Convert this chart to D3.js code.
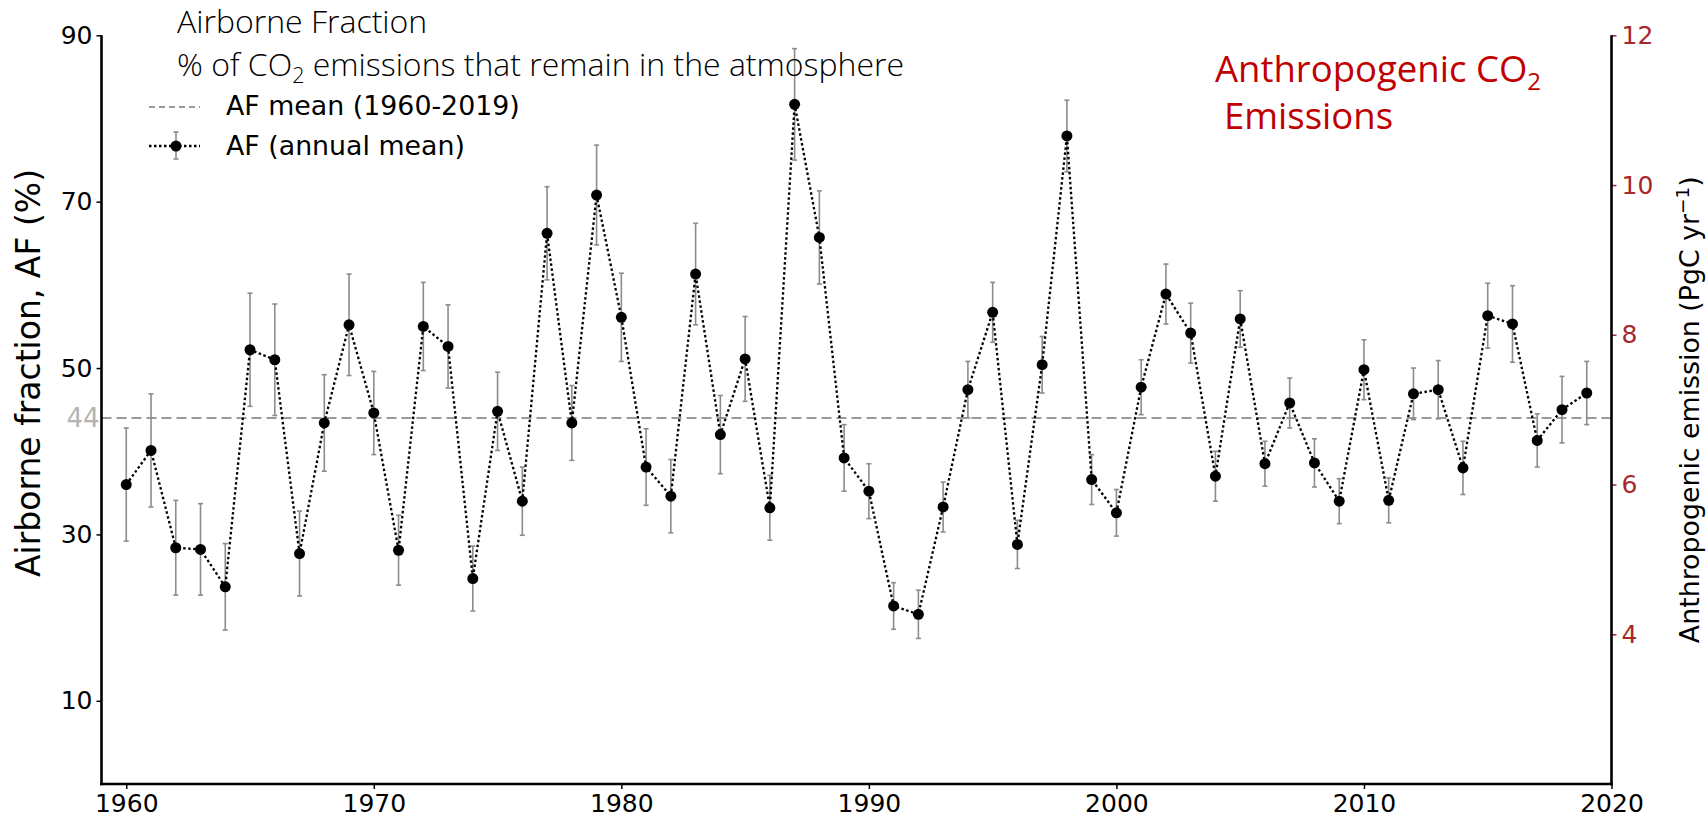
<!DOCTYPE html>
<html>
<head>
<meta charset="utf-8">
<script src="https://cdn.jsdelivr.net/npm/d3@7"></script>
<style>
  html, body { margin: 0; padding: 0; background: #fff; }
  svg { display: block; }
</style>
</head>
<body>
<svg id="chart" width="1708" height="817"></svg>
<script>
// Annual airborne fraction of CO2 emissions, 1960-2019
const years = [
  1960, 1961, 1962, 1963, 1964, 1965, 1966, 1967, 1968, 1969,
  1970, 1971, 1972, 1973, 1974, 1975, 1976, 1977, 1978, 1979,
  1980, 1981, 1982, 1983, 1984, 1985, 1986, 1987, 1988, 1989,
  1990, 1991, 1992, 1993, 1994, 1995, 1996, 1997, 1998, 1999,
  2000, 2001, 2002, 2003, 2004, 2005, 2006, 2007, 2008, 2009,
  2010, 2011, 2012, 2013, 2014, 2015, 2016, 2017, 2018, 2019
];
const afValues = [
  36.0, 40.1, 28.4, 28.2, 23.7, 52.2, 51.0, 27.7, 43.4, 55.2,
  44.6, 28.1, 55.0, 52.6, 24.7, 44.8, 34.0, 66.2, 43.4, 70.8,
  56.1, 38.1, 34.6, 61.3, 42.0, 51.1, 33.2, 81.7, 65.7, 39.2,
  35.2, 21.4, 20.4, 33.3, 47.4, 56.7, 28.8, 50.4, 77.9, 36.6,
  32.6, 47.7, 58.9, 54.2, 37.0, 55.9, 38.5, 45.8, 38.6, 34.0,
  49.8, 34.1, 46.9, 47.4, 38.0, 56.3, 55.3, 41.3, 45.0, 47.0
];
const afErrors = [
  6.8, 6.8, 5.7, 5.5, 5.2, 6.8, 6.7, 5.1, 5.8, 6.1,
  5.0, 4.2, 5.3, 5.0, 3.9, 4.7, 4.1, 5.6, 4.5, 6.0,
  5.3, 4.6, 4.4, 6.1, 4.7, 5.1, 3.9, 6.7, 5.6, 4.0,
  3.3, 2.8, 2.9, 3.0, 3.4, 3.6, 2.9, 3.4, 4.3, 3.0,
  2.8, 3.3, 3.6, 3.6, 3.0, 3.4, 2.7, 3.0, 2.9, 2.7,
  3.6, 2.7, 3.1, 3.5, 3.2, 3.9, 4.6, 3.2, 4.0, 3.8
];
const afMean = 44;

const xTicks = [1960, 1970, 1980, 1990, 2000, 2010, 2020];
const leftTicks = [10, 30, 50, 70, 90];
const rightTicks = [4, 6, 8, 10, 12];

const xDomain = [1959, 2020];
const leftDomain = [0, 90];
const rightDomain = [2, 12];

const data = years.map((yr, i) => ({ year: yr, af: afValues[i], err: afErrors[i] }));

const svg = d3.select("#chart");
const plot = { left: 101.5, right: 1611.5, top: 35.3, bottom: 784 };

const x = d3.scaleLinear().domain(xDomain).range([plot.left, plot.right]);
const yL = d3.scaleLinear().domain(leftDomain).range([plot.bottom, plot.top]);
const yR = d3.scaleLinear().domain(rightDomain).range([plot.bottom, plot.top]);

const tickFont = "'DejaVu Sans', sans-serif";
const emissionRed = "#a8272a";

// mean line
svg.append("line")
  .attr("x1", plot.left).attr("x2", plot.right)
  .attr("y1", yL(afMean)).attr("y2", yL(afMean))
  .attr("stroke", "#9a9a9a").attr("stroke-width", 2)
  .attr("stroke-dasharray", "10,5");

svg.append("text")
  .attr("x", plot.left - 2).attr("y", yL(afMean))
  .attr("dy", "0.36em")
  .attr("text-anchor", "end")
  .attr("font-family", tickFont).attr("font-size", 26)
  .attr("fill", "#b4b4b4")
  .text(afMean);

// error bars
const eb = svg.append("g").attr("stroke", "#8c8c8c").attr("stroke-width", 1.6);
data.forEach(d => {
  const cx = x(d.year);
  eb.append("line").attr("x1", cx).attr("x2", cx)
    .attr("y1", yL(d.af - d.err)).attr("y2", yL(d.af + d.err));
  [d.af - d.err, d.af + d.err].forEach(v => {
    eb.append("line").attr("x1", cx - 2.5).attr("x2", cx + 2.5)
      .attr("y1", yL(v)).attr("y2", yL(v));
  });
});

// dotted connecting line
svg.append("path")
  .datum(data)
  .attr("fill", "none")
  .attr("stroke", "#000")
  .attr("stroke-width", 2.3)
  .attr("stroke-dasharray", "2.5,2.5")
  .attr("d", d3.line().x(d => x(d.year)).y(d => yL(d.af)));

// markers
svg.append("g").selectAll("circle")
  .data(data).join("circle")
  .attr("cx", d => x(d.year)).attr("cy", d => yL(d.af))
  .attr("r", 5.5).attr("fill", "#000");

// axes
const styleAxis = (g, color) => {
  g.select(".domain").remove();
  g.selectAll(".tick line").attr("stroke", color).attr("stroke-width", 1.5);
  g.selectAll(".tick text").attr("fill", color)
    .attr("font-family", tickFont).attr("font-size", 25);
};

svg.append("g")
  .attr("transform", `translate(${plot.left},0)`)
  .call(d3.axisLeft(yL).tickValues(leftTicks).tickSize(5).tickPadding(4))
  .call(g => styleAxis(g, "#000"));

svg.append("g")
  .attr("transform", `translate(0,${plot.bottom})`)
  .call(d3.axisBottom(x).tickValues(xTicks).tickFormat(d3.format("d")).tickSize(5).tickPadding(5))
  .call(g => styleAxis(g, "#000"));

svg.append("g")
  .attr("transform", `translate(${plot.right},0)`)
  .call(d3.axisRight(yR).tickValues(rightTicks).tickSize(5).tickPadding(5))
  .call(g => styleAxis(g, emissionRed));

// spines
const spine = svg.append("g").attr("stroke", "#000").attr("stroke-width", 2.6).attr("fill", "none");
spine.append("line").attr("x1", plot.left).attr("x2", plot.left).attr("y1", plot.top).attr("y2", plot.bottom + 1.3);
spine.append("line").attr("x1", plot.right).attr("x2", plot.right).attr("y1", plot.top).attr("y2", plot.bottom + 1.3);
spine.append("line").attr("x1", plot.left - 1.3).attr("x2", plot.right + 1.3).attr("y1", plot.bottom).attr("y2", plot.bottom);

// axis titles
svg.append("text")
  .attr("transform", "translate(28,373) rotate(-90)")
  .attr("text-anchor", "middle").attr("dy", "0.35em")
  .attr("font-family", tickFont).attr("font-size", 33).attr("fill", "#000")
  .text("Airborne fraction, AF (%)");

const rLabel = svg.append("text")
  .attr("transform", `translate(1690,${(plot.top + plot.bottom) / 2}) rotate(-90)`)
  .attr("text-anchor", "middle").attr("dy", "0.35em")
  .attr("font-family", tickFont).attr("font-size", 26.8).attr("fill", "#000");
rLabel.append("tspan").text("Anthropogenic emission (PgC yr");
rLabel.append("tspan").attr("dy", -10).attr("font-size", 18.5).text("\u22121");
rLabel.append("tspan").attr("dy", 10).text(")");

// heading
const headFont = "'Open Sans', sans-serif";
svg.append("text")
  .attr("x", 177).attr("y", 33)
  .attr("font-family", headFont).attr("font-weight", 300)
  .attr("font-size", 32).attr("fill", "#000")
  .text("Airborne Fraction");
const sub = svg.append("text")
  .attr("x", 177).attr("y", 76)
  .attr("font-family", headFont).attr("font-weight", 300)
  .attr("font-size", 32).attr("fill", "#000");
sub.append("tspan").text("% of CO");
sub.append("tspan").attr("dy", 7).attr("font-size", 21.5).text("2");
sub.append("tspan").attr("dy", -7).text(" emissions that remain in the atmosphere");

// legend
const lg = svg.append("g");
lg.append("line").attr("x1", 149).attr("x2", 200).attr("y1", 107).attr("y2", 107)
  .attr("stroke", "#9a9a9a").attr("stroke-width", 2).attr("stroke-dasharray", "6,4");
lg.append("line").attr("x1", 149).attr("x2", 200).attr("y1", 146).attr("y2", 146)
  .attr("stroke", "#000").attr("stroke-width", 2.3).attr("stroke-dasharray", "2.5,2.5");
lg.append("line").attr("x1", 176).attr("x2", 176).attr("y1", 132).attr("y2", 159)
  .attr("stroke", "#8c8c8c").attr("stroke-width", 1.6);
[132, 159].forEach(yy => lg.append("line").attr("x1", 173.5).attr("x2", 178.5)
  .attr("y1", yy).attr("y2", yy).attr("stroke", "#8c8c8c").attr("stroke-width", 1.6));
lg.append("circle").attr("cx", 176).attr("cy", 146).attr("r", 5.5).attr("fill", "#000");
lg.append("text").attr("x", 226).attr("y", 115)
  .attr("font-family", tickFont).attr("font-size", 26.8).attr("fill", "#000")
  .text("AF mean (1960-2019)");
lg.append("text").attr("x", 226).attr("y", 155)
  .attr("font-family", tickFont).attr("font-size", 26.8).attr("fill", "#000")
  .text("AF (annual mean)");

// emissions annotation
const em = svg.append("text")
  .attr("x", 1215).attr("y", 82)
  .attr("font-family", headFont).attr("font-size", 36.5).attr("fill", "#c00000");
em.append("tspan").text("Anthropogenic CO");
em.append("tspan").attr("dy", 8).attr("font-size", 24).text("2");
svg.append("text")
  .attr("x", 1224).attr("y", 129)
  .attr("font-family", headFont).attr("font-size", 36.5).attr("fill", "#c00000")
  .text("Emissions");
</script>
</body>
</html>
